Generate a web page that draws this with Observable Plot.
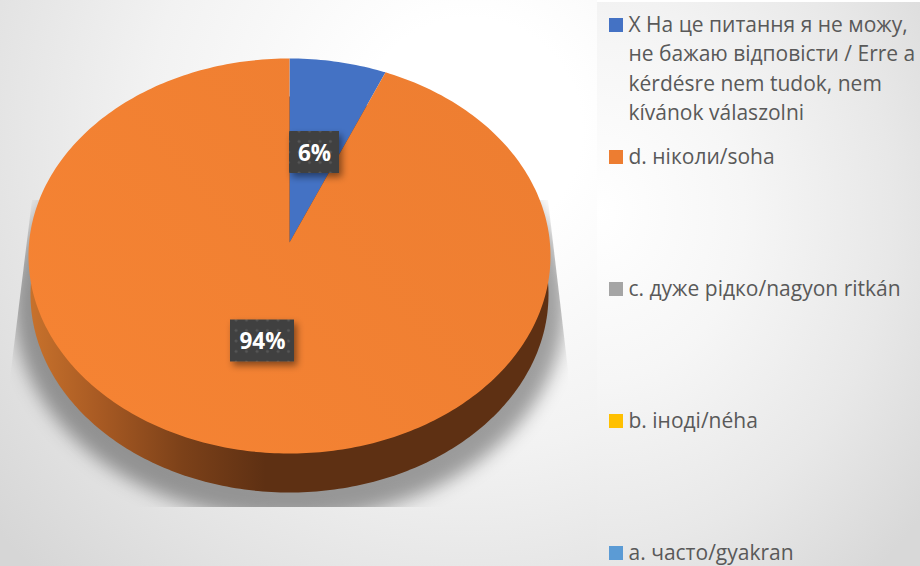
<!DOCTYPE html>
<html>
<head>
<meta charset="utf-8">
<script src="https://cdn.jsdelivr.net/npm/d3@7"></script>
<script src="https://cdn.jsdelivr.net/npm/@observablehq/plot@0.6"></script>
<style>
html,body{margin:0;padding:0;width:920px;height:566px;overflow:hidden;background:#fff}
#left,#right{position:absolute}
#left{left:0;top:0;width:597px;height:566px;
  background:radial-gradient(ellipse 620px 620px at 470px 130px,#fff 0%,#fff 18%,#f2f2f2 52%,#e2e2e2 80%,#d6d6d6 100%)}
#right{left:597px;top:2px;width:323px;height:564px;
  background:radial-gradient(ellipse 420px 480px at 0px 210px,#fff 0%,#f6f6f6 35%,#e8e8e8 70%,#d8d8d8 100%)}
#chart{position:absolute;left:0;top:0}
</style>
</head>
<body>
<div id="left"></div><div id="right"></div><div id="chart"></div>
<script>
// ---- data ----
const sliceKeys   = ["X", "d"];
const sliceValues = [6, 94];
const sliceColors = ["#4472C4", "url(#faceOrange)"];
const sliceLabels = ["6%", "94%"];

const legendLabels = [
  "Х На це питання я не можу,\nне бажаю відповісти / Erre a\nkérdésre nem tudok, nem\nkívánok válaszolni",
  "d. ніколи/soha",
  "c. дуже рідко/nagyon ritkán",
  "b. іноді/néha",
  "a. часто/gyakran"
];
const legendColors = ["#4472C4", "#ED7D31", "#A5A5A5", "#FFC000", "#5B9BD5"];

// ---- layout ----
const W = 920, H = 566;
const face = {cx: 289, cy: 255.5, rx: 261, ry: 197.5};
const apex = {x: 289, y: 242};
const base = {cx: 289, cy: 294, rx: 259, ry: 198};
const shadow = {cx: 289, cy: 303, rx: 276, ry: 216};
const labelCentres = [{x: 314, y: 152, w: 50}, {x: 262, y: 340.5, w: 64}];
const labelH = 42;
const legendCentreY = [69, 157, 289, 421, 553];
const swatch = 14, swatchX = 609, textX = 628;

const rim = (e, a) => ({x: e.cx + e.rx * Math.sin(a), y: e.cy - e.ry * Math.cos(a)});
const circle = d3.range(0, 361).map(d => d * Math.PI / 180);
const ellipse = e => circle.map(a => rim(e, a));

const arcs = d3.pie().sort(null)(sliceValues);
const slicePoly = arcs.map(s => {
  const n = Math.max(2, Math.ceil((s.endAngle - s.startAngle) * 180 / Math.PI));
  const pts = d3.range(n + 1).map(i => rim(face, s.startAngle + (s.endAngle - s.startAngle) * i / n));
  return [apex, ...pts, apex];
});

const defs = () => {
  const d = document.createElementNS("http://www.w3.org/2000/svg", "defs");
  d.innerHTML = `
  <linearGradient id="sideGrad" gradientUnits="userSpaceOnUse" x1="28" x2="265" y1="0" y2="0">
    <stop offset="0" stop-color="#c8722c"/><stop offset="0.3" stop-color="#a85a23"/>
    <stop offset="0.65" stop-color="#7c4119"/><stop offset="1" stop-color="#5e3013"/>
  </linearGradient>
  <linearGradient id="faceOrange" gradientUnits="userSpaceOnUse" x1="100" y1="420" x2="480" y2="100">
    <stop offset="0" stop-color="#F58333"/><stop offset="1" stop-color="#EE7E31"/>
  </linearGradient>
  <pattern id="dots" patternUnits="userSpaceOnUse" width="10.5" height="10.5">
    <rect width="10.5" height="10.5" fill="#404040"/>
    <circle cx="5" cy="5" r="1.4" fill="#565656"/>
  </pattern>
  <filter id="blur" x="-20%" y="-20%" width="140%" height="140%"><feGaussianBlur stdDeviation="9"/></filter>
  <filter id="boxShadow" x="-30%" y="-30%" width="170%" height="170%">
    <feDropShadow dx="3" dy="4" stdDeviation="3.5" flood-color="#000" flood-opacity="0.45"/>
  </filter>
  <clipPath id="shadowClip"><polygon points="32,200 10,378 10,507 568,507 568,370 548,200"/></clipPath>`;
  return d;
};

const withShadow = (i, s, v, d, c, next) => {
  const g = next(i, s, v, d, c);
  g.setAttribute("filter", "url(#blur)");
  const w = document.createElementNS("http://www.w3.org/2000/svg", "g");
  w.setAttribute("clip-path", "url(#shadowClip)");
  w.append(g);
  return w;
};
const withBoxShadow = (i, s, v, d, c, next) => {
  const g = next(i, s, v, d, c);
  g.setAttribute("filter", "url(#boxShadow)");
  return g;
};

const labelData = sliceLabels.map((t, i) => ({t, ...labelCentres[i]}));
const legendData = legendLabels.map((t, i) => ({t, c: legendColors[i], y: legendCentreY[i]}));
const swatchY = d => d.y === legendCentreY[0] ? 25 : d.y;

const plot = Plot.plot({
  width: W, height: H,
  marginTop: 0, marginRight: 0, marginBottom: 0, marginLeft: 0,
  x: {domain: [0, W], range: [0, W], axis: null},
  y: {domain: [0, H], range: [0, H], axis: null},
  style: {background: "transparent", fontFamily: "'Open Sans', sans-serif"},
  marks: [
    defs,
    Plot.line(ellipse(shadow), {x: "x", y: "y", fill: "#000", fillOpacity: 0.36, stroke: "none", render: withShadow}),
    Plot.line(ellipse(base), {x: "x", y: "y", fill: "url(#sideGrad)", stroke: "none"}),
    ...slicePoly.map((p, i) => Plot.line(p, {x: "x", y: "y", fill: sliceColors[i], stroke: "none"})),
    Plot.rect(labelData, {
      x1: d => d.x - d.w / 2, x2: d => d.x + d.w / 2,
      y1: d => d.y - labelH / 2, y2: d => d.y + labelH / 2,
      fill: "url(#dots)", render: withBoxShadow
    }),
    Plot.text(labelData, {x: "x", y: "y", text: "t", fill: "#fff", fontSize: 22.5, fontWeight: 700, dy: 1}),
    Plot.rect(legendData, {
      x1: swatchX, x2: swatchX + swatch,
      y1: d => swatchY(d) - swatch / 2, y2: d => swatchY(d) + swatch / 2,
      fill: "c"
    }),
    Plot.text(legendData, {x: textX, y: "y", text: "t", fill: "#595959", fontSize: 21, lineHeight: 1.4, textAnchor: "start", dy: -3})
  ],
  color: {type: "identity"}
});
document.getElementById("chart").append(plot);
</script>
</body>
</html>
